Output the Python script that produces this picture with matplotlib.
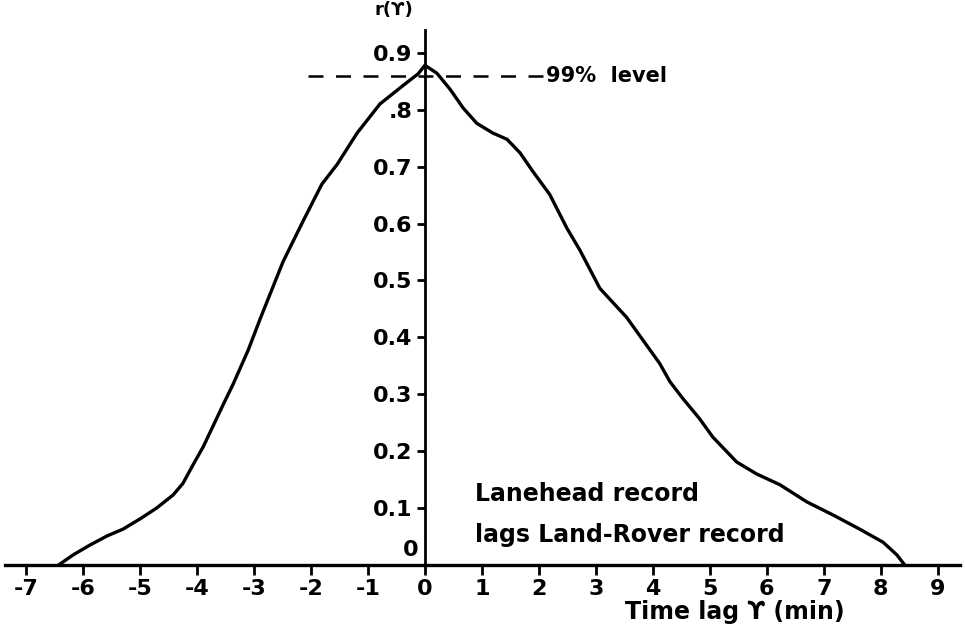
import matplotlib
matplotlib.use("Agg")
import matplotlib.pyplot as plt
import numpy as np

# cross-correlation r(tau)
lag = [-6.43, -6.17, -5.88, -5.58, -5.3, -5.0, -4.71, -4.42, -4.25, -4.07,
       -3.89, -3.71, -3.54, -3.37, -3.1, -2.89, -2.49, -2.14, -1.81, -1.54,
       -1.19, -0.79, -0.39, -0.12, 0.0, 0.21, 0.44, 0.67, 0.91, 1.19,
       1.44, 1.67, 1.89, 2.19, 2.49, 2.72, 3.07, 3.54, 4.12, 4.3,
       4.53, 4.82, 5.05, 5.47, 5.82, 6.23, 6.7, 7.16, 7.63, 8.04,
       8.28, 8.42]
corr = [0.0, 0.018, 0.035, 0.051, 0.063, 0.081, 0.1, 0.123, 0.143, 0.176,
        0.208, 0.246, 0.282, 0.317, 0.378, 0.433, 0.533, 0.604, 0.669, 0.704,
        0.759, 0.81, 0.842, 0.863, 0.878, 0.864, 0.836, 0.803, 0.776, 0.759,
        0.748, 0.724, 0.692, 0.651, 0.592, 0.553, 0.486, 0.435, 0.354, 0.322,
        0.292, 0.257, 0.225, 0.181, 0.16, 0.141, 0.111, 0.088, 0.063, 0.04,
        0.018, 0.0]

level_99 = 0.859
level_span = [-2.05, 2.07]

xticks = list(range(-7, 10))
yticks = [0.1, 0.2, 0.3, 0.4, 0.5, 0.6, 0.7, 0.8, 0.9]
ytick_labels = ["0.1", "0.2", "0.3", "0.4", "0.5", "0.6", "0.7", ".8", "0.9"]

plt.rcParams["axes.unicode_minus"] = False
plt.rcParams["font.family"] = "DejaVu Sans"
plt.rcParams["font.weight"] = "bold"

fig = plt.figure(figsize=(9.65, 6.34), dpi=100)
ax = fig.add_axes([5 / 965, 69 / 634, 955 / 965, 535 / 634])

ax.plot(lag, corr, color="black", lw=2.4, solid_capstyle="round",
        solid_joinstyle="round")
ax.plot(level_span, [level_99, level_99], color="black", lw=1.8,
        dashes=(6, 5))
ax.text(level_span[1] + 0.05, level_99, "99%  level", fontsize=15,
        fontweight="bold", va="center", ha="left")

ax.set_xlim(-7.37, 9.39)
ax.set_ylim(0, 0.94)

for side in ["top", "right"]:
    ax.spines[side].set_visible(False)
ax.spines["left"].set_position(("data", 0))
ax.spines["left"].set_linewidth(2.0)
ax.spines["bottom"].set_linewidth(2.4)

ax.set_xticks(xticks)
ax.set_xticklabels([str(t) for t in xticks], fontsize=16, fontweight="bold")
ax.set_yticks(yticks)
ax.set_yticklabels(ytick_labels, fontsize=16, fontweight="bold")
ax.tick_params(axis="x", direction="out", length=7, width=2, pad=3)
ax.tick_params(axis="y", direction="out", length=6, width=2, pad=3)

ax.text(-0.12, 0.027, "0", fontsize=16, fontweight="bold", ha="right",
        va="center")
ax.text(-0.55, 0.975, "r(ϒ)", fontsize=13, fontweight="bold", ha="center",
        va="center", clip_on=False)

ax.text(0.88, 0.125, "Lanehead record", fontsize=17, fontweight="bold",
        ha="left", va="center")
ax.text(0.88, 0.053, "lags Land-Rover record", fontsize=17,
        fontweight="bold", ha="left", va="center")

fig.text(735 / 965, 1 - 612 / 634, "Time lag ϒ (min)", fontsize=17,
         fontweight="bold", ha="center", va="center")

fig.savefig("out.png", dpi=100, facecolor="white")
